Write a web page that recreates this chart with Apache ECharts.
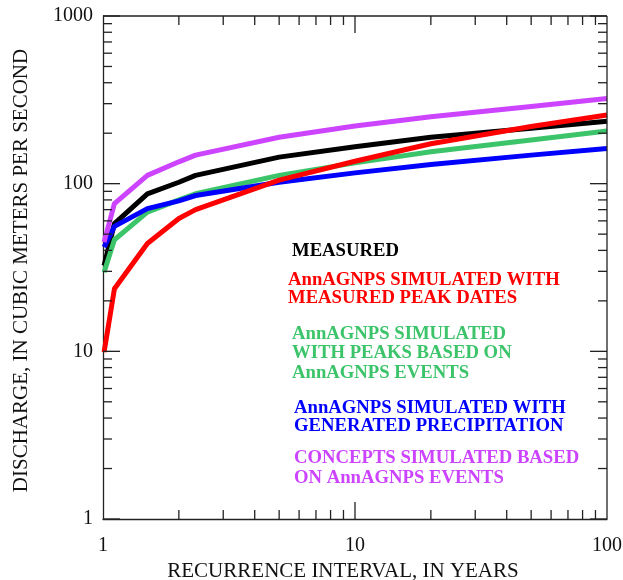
<!DOCTYPE html>
<html>
<head>
<meta charset="utf-8">
<script src="https://cdn.jsdelivr.net/npm/echarts@6/dist/echarts.min.js"></script>
<style>html,body{margin:0;padding:0;background:#fff;}#c{width:623px;height:580px;}</style>
</head>
<body>
<div id="c"></div>
<script>
// Recurrence interval, years
const years = [1.01, 1.11, 1.5, 2, 2.33, 5, 10, 20, 50, 100];
// Discharge, cubic meters per second
const measured = [32.5, 57.7, 87, 102, 112, 144, 166, 189, 214, 236];
const annMeasuredDates = [9.9, 23.6, 44, 62, 70, 105, 136, 173, 219, 257];
const annPeaksEvents = [29.6, 46.3, 67.7, 80, 87, 112, 133, 155, 182, 206];
const annGenerated = [41.8, 55.6, 71, 79, 85, 102, 116, 130, 148, 162];
const concepts = [44.8, 76, 112, 135, 148, 189, 221, 251, 289, 322];

const xTickLabels = ['1', '10', '100'];
const yTickLabels = ['1', '10', '100', '1000'];

const seriesNames = ['MEASURED', 'AnnAGNPS MEASURED PEAK DATES', 'AnnAGNPS PEAKS EVENTS', 'AnnAGNPS GENERATED', 'CONCEPTS'];
const seriesColors = ['#000000', '#ff0000', '#3cc46a', '#0000ff', '#cc44ff'];
const seriesData = [measured, annMeasuredDates, annPeaksEvents, annGenerated, concepts];

const annotations = [
  {lines: ['MEASURED'], color: '#000000', x: 292, y: [251]},
  {lines: ['AnnAGNPS SIMULATED WITH', 'MEASURED PEAK DATES'], color: '#ff0000', x: 288, y: [280, 298.5]},
  {lines: ['AnnAGNPS SIMULATED', 'WITH PEAKS BASED ON', 'AnnAGNPS EVENTS'], color: '#3cc46a', x: 292, y: [334, 353, 373]},
  {lines: ['AnnAGNPS SIMULATED WITH', 'GENERATED PRECIPITATION'], color: '#0000ff', x: 294, y: [408, 426.5]},
  {lines: ['CONCEPTS SIMULATED BASED', 'ON AnnAGNPS EVENTS'], color: '#cc44ff', x: 294, y: [458, 478]}
];

const FONT = '"Liberation Serif","Times New Roman",serif';
const chart = echarts.init(document.getElementById('c'), null, {renderer: 'canvas'});

const order = [0, 2, 3, 1, 4];
const option = {
  animation: false,
  backgroundColor: '#ffffff',
  grid: {left: 103, right: 16, top: 16, bottom: 61, containLabel: false, outerBoundsMode: 'none'},
  xAxis: {
    type: 'log', logBase: 10, min: 1, max: 100,
    name: 'RECURRENCE INTERVAL, IN YEARS', nameLocation: 'middle', nameGap: 35,
    nameTextStyle: {fontFamily: FONT, fontSize: 21, color: '#111', padding: [0, 24, 0, 0]},
    axisLine: {show: true, lineStyle: {color: '#222', width: 1.3}},
    axisTick: {show: false},
    splitLine: {show: false},
    axisLabel: {fontFamily: FONT, fontSize: 20, color: '#111', margin: 17,
      formatter: v => { const s = String(Math.round(v)); return xTickLabels.indexOf(s) >= 0 ? s : ''; }}
  },
  yAxis: {
    type: 'log', logBase: 10, min: 1, max: 1000,
    name: 'DISCHARGE, IN CUBIC METERS PER SECOND', nameLocation: 'middle', nameGap: 71,
    nameTextStyle: {fontFamily: FONT, fontSize: 21, color: '#111', padding: [0, 6, 0, 0]},
    axisLine: {show: true, lineStyle: {color: '#222', width: 1.3}},
    axisTick: {show: false},
    splitLine: {show: false},
    axisLabel: {fontFamily: FONT, fontSize: 20, color: '#111', margin: 10,
      formatter: v => { const s = String(Math.round(v)); return yTickLabels.indexOf(s) >= 0 ? s : ''; }}
  },
  series: order.map(i => ({
    name: seriesNames[i], type: 'line', showSymbol: false, symbol: 'none',
    lineStyle: {color: seriesColors[i], width: 5, join: 'round'},
    itemStyle: {color: seriesColors[i]},
    data: years.map((x, k) => [x, seriesData[i][k]])
  }))
};
chart.setOption(option);

// Ticks on all four sides (inside), computed through the axes
const g = [];
const px = v => chart.convertToPixel({xAxisIndex: 0}, v);
const py = v => chart.convertToPixel({yAxisIndex: 0}, v);
const xL = px(1), xR = px(100), yB = py(1), yT = py(1000);
const tickStyle = {stroke: '#222', lineWidth: 1.3};
function addLine(x1, y1, x2, y2) {
  g.push({type: 'line', z: 50, silent: true, shape: {x1, y1, x2, y2}, style: tickStyle});
}
[1, 10].forEach(d => {
  for (let m = 1; m <= 9; m++) {
    const v = d * m; if (v === 1) continue;
    const X = px(v), len = m === 1 ? 17 : 9;
    addLine(X, yB, X, yB - len);
    addLine(X, yT, X, yT + len);
  }
});
[1, 10, 100].forEach(d => {
  for (let m = 1; m <= 9; m++) {
    const v = d * m;
    const Y = py(v), len = m === 1 ? 17 : 9;
    addLine(xL, Y, xL + len, Y);
    addLine(xR, Y, xR - len, Y);
  }
});
addLine(xL, yT, xL + 17, yT);
addLine(xR, yT, xR - 17, yT);
addLine(xL, yT, xR, yT);
addLine(xR, yT, xR, yB);

annotations.forEach(a => {
  a.lines.forEach((t, k) => {
    g.push({type: 'text', z: 60, silent: true, x: a.x, y: a.y[k],
      style: {text: t, fill: a.color, font: 'bold 18.7px ' + FONT,
        textAlign: 'left', align: 'left', textVerticalAlign: 'middle', verticalAlign: 'middle'}});
  });
});
chart.setOption({graphic: g});
</script>
</body>
</html>
